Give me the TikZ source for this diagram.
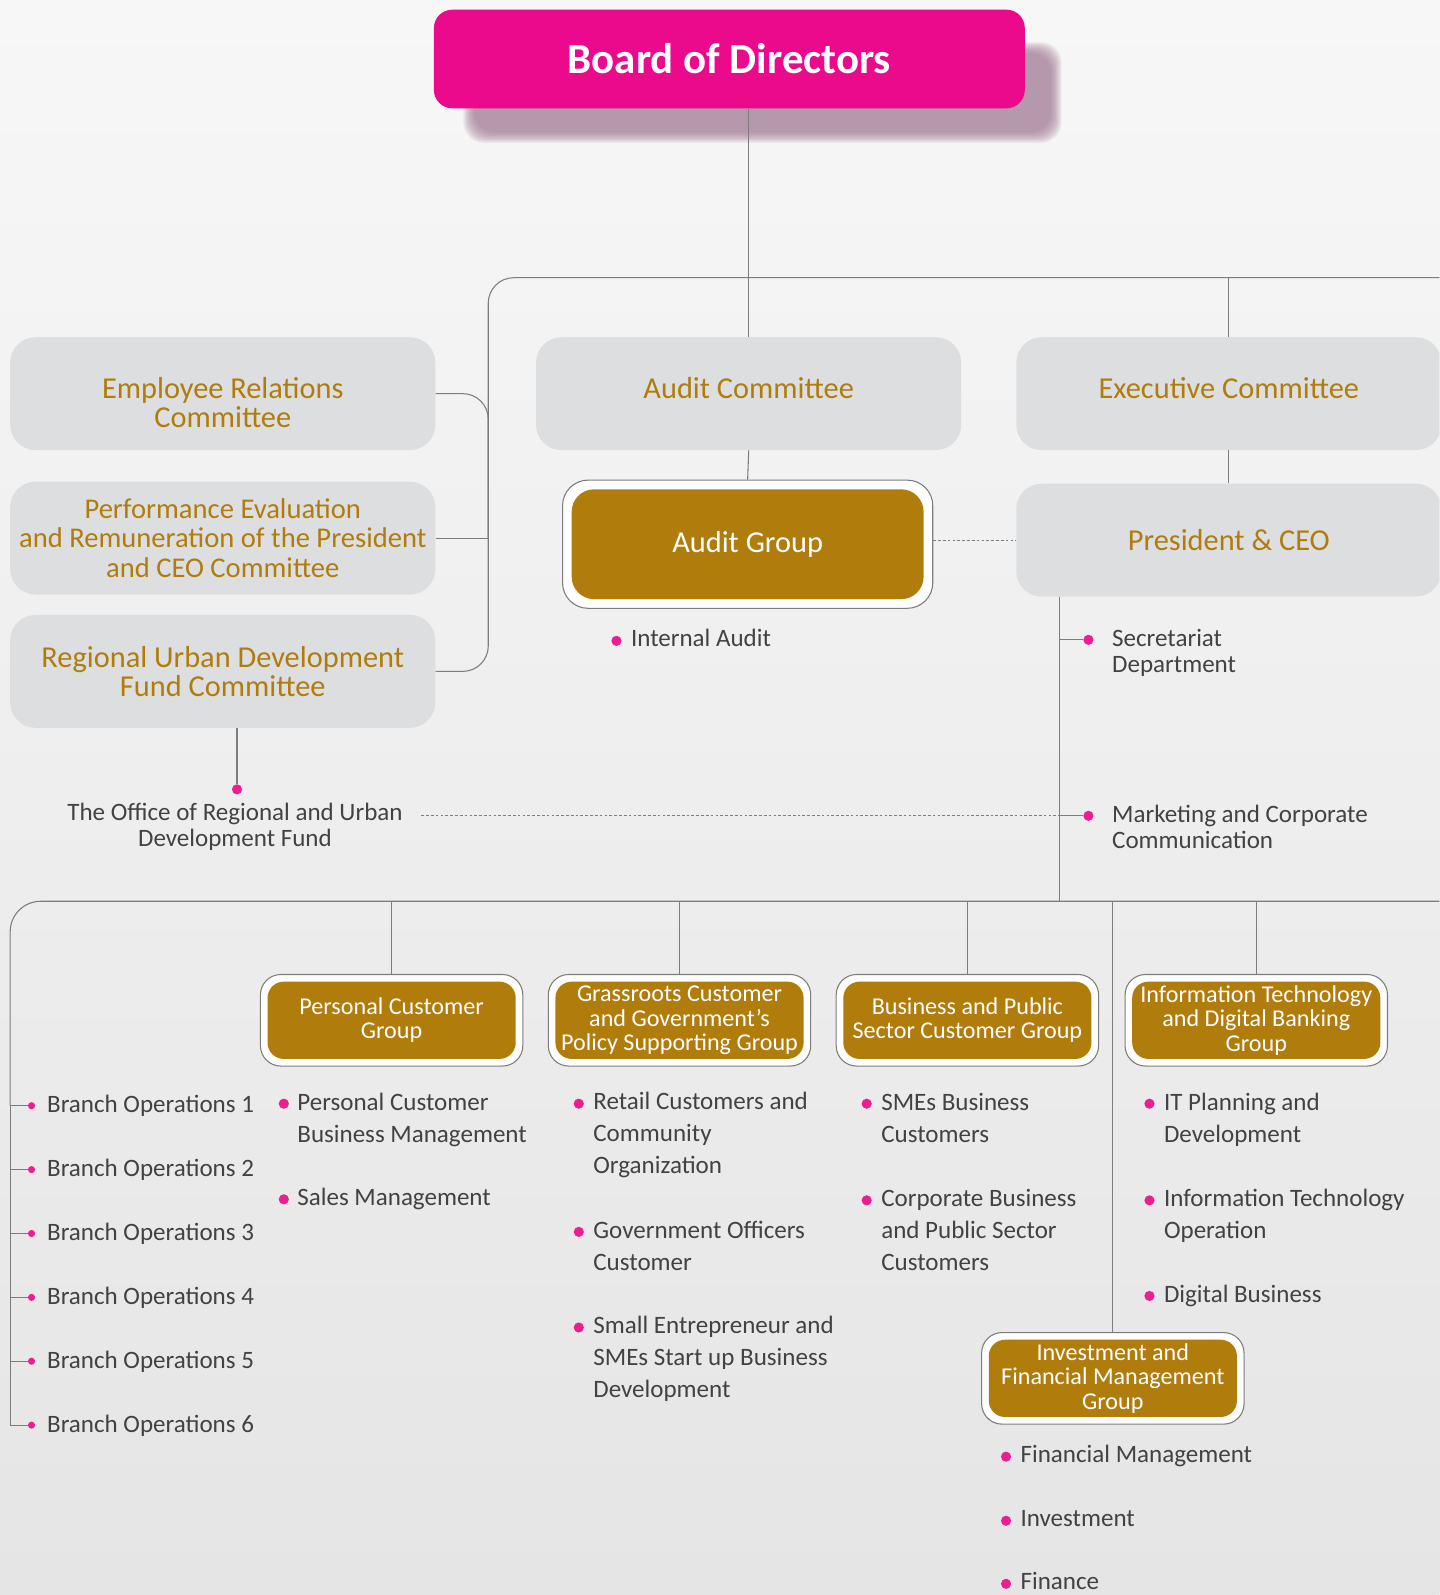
\documentclass[tikz,border=0pt]{standalone}
\usepackage{fontspec}
\setmainfont{Carlito}
\usetikzlibrary{positioning}

\definecolor{bgtop}{RGB}{247,247,247}
\definecolor{bgbottom}{RGB}{229,229,229}
\definecolor{boardpink}{RGB}{236,10,140}
\definecolor{shadowmauve}{RGB}{160,118,145}
\definecolor{panelgray}{RGB}{221,222,224}
\definecolor{goldbrown}{RGB}{176,124,12}
\definecolor{dotpink}{RGB}{236,30,145}
\definecolor{ink}{RGB}{66,66,66}
\definecolor{wire}{RGB}{125,125,125}

\tikzset{
  board/.style={fill=boardpink, rounded corners=0.36cm, minimum width=11.62cm, minimum height=1.94cm,
    text=white, font=\fontsize{24}{28}\selectfont\bfseries},
  panel/.style={fill=panelgray, rounded corners=0.5cm, minimum width=8.36cm, minimum height=2.22cm,
    text=goldbrown, align=center, inner sep=0pt, font=\fontsize{17}{16.2}\selectfont},
  ring/.style={draw=wire, line width=0.6pt, fill=white},
  agring/.style={rounded corners=0.5cm, minimum width=7.28cm, minimum height=2.52cm},
  agcore/.style={fill=goldbrown, rounded corners=0.44cm, minimum width=6.92cm, minimum height=2.16cm,
    text=white, font=\fontsize{17}{20}\selectfont},
  grpring/.style={rounded corners=0.4cm, minimum width=5.16cm, minimum height=1.8cm},
  grpcore/.style={fill=goldbrown, rounded corners=0.32cm, minimum width=4.88cm, minimum height=1.52cm,
    text=white, align=center, inner sep=0pt, font=\fontsize{13.5}{13.6}\selectfont},
  conn/.style={draw=wire, line width=0.6pt},
  dotline/.style={draw=wire, line width=0.6pt, dash pattern=on 1.5pt off 1.2pt},
  dot/.style={circle, fill=dotpink, inner sep=0pt, minimum size=0.2cm},
  smalldot/.style={circle, fill=dotpink, inner sep=0pt, minimum size=0.14cm},
  item/.style={anchor=base west, align=left, text=ink, inner sep=0pt, font=\fontsize{14}{17.9}\selectfont},
  note/.style={anchor=base west, align=left, text=ink, inner sep=0pt, font=\fontsize{14}{14.7}\selectfont},
}

\begin{document}
\begin{tikzpicture}[x=0.02cm, y=-0.02cm]
% Page and backdrop
\useasboundingbox (0,0) rectangle (1415,1568);
\clip (0,0) rectangle (1415,1568);
\shade[top color=bgtop, bottom color=bgbottom] (0,0) rectangle (1415,1568);

% Bus points
\coordinate (busL) at (480,273);
\coordinate (busR) at (1415,273);
\coordinate (stem) at (1042,886);
\coordinate (bbL) at (10,886);
\coordinate (bbR) at (1415,886);

% Soft shadow behind the board
\foreach \k in {0,...,8}
  \fill[shadowmauve, opacity=0.13, rounded corners=0.4cm] ({466-1.3*\k},{52-1.3*\k}) rectangle ({1033+1.3*\k},{130+1.3*\k});

% Board and committees
\node[board] (bod) at (717,58) {Board of Directors};
\node[panel] (erc) at (219,387) {\rule{0pt}{22pt}Employee Relations\\Committee};
\node[panel, font=\fontsize{16}{16.4}\selectfont] (pec) at (219,529) {Performance Evaluation\\and Remuneration of the President\\and CEO Committee};
\node[panel] (rud) at (219,660) {Regional Urban Development\\Fund Committee};
\node[panel] (ac) at (736,387) {Audit Committee\rule[-6pt]{0pt}{6pt}};
\node[panel] (ec) at (1208,387) {Executive Committee\rule[-6pt]{0pt}{6pt}};
\node[panel] (ceo) at (1208,531) {President \& CEO};

% Audit group
\node[ring, agring] (ag) at (735,535) {};
\node[agcore] (agc) at (ag) {Audit Group};
\node[dot] (b-ia) at (606,630) {};
\node[item] (ia) at (620,636) {Internal Audit};

% Units under the President (the base of a two-line text is its last line)
\node[dot] (b-sec) at (1070,629) {};
\node[note] (sec) at (1093,661) {Secretariat\\Department};
\node[dot] (b-mkt) at (1070,802) {};
\node[note] (mkt) at (1093,834) {Marketing and Corporate\\Communication};
\node[dot] (b-ofc) at (233,776) {};
\node[note, anchor=base, align=center, inner xsep=0.36cm] (ofc) at (231,832) {The Office of Regional and Urban\\Development Fund};

% Groups
\node[ring, grpring] (pcg) at (385,1003) {};
\node[grpcore] (pcgc) at (pcg) {Personal Customer\\Group};
\node[ring, grpring] (gcg) at (668,1003) {};
\node[grpcore] (gcgc) at (gcg) {Grassroots Customer\\and Government's\\Policy Supporting Group};
\node[ring, grpring] (bcg) at (951,1003) {};
\node[grpcore] (bcgc) at (bcg) {Business and Public\\Sector Customer Group};
\node[ring, grpring] (itg) at (1235,1003) {};
\node[grpcore] (itgc) at (itg) {Information Technology\\and Digital Banking\\Group};
\node[ring, grpring] (ifg) at (1094,1355) {};
\node[grpcore] (ifgc) at (ifg) {Investment and\\Financial Management\\Group};

% Branch operations
\foreach \i in {1,...,6} {
  \node[smalldot] (b-br\i) at (31,{1087+62.8*(\i-1)}) {};
  \node[item] (br\i) at (46,{1094+62.8*(\i-1)}) {Branch Operations \i};
}

% Group departments
\node[dot] (b-pc1) at (279,1085) {};
\node[item] (pc1) at (292,1123) {Personal Customer\\Business Management};
\node[dot] (b-pc2) at (279,1179) {};
\node[item] (pc2) at (292,1185) {Sales Management};
\node[dot] (b-gc1) at (569,1085) {};
\node[item] (gc1) at (583,1154) {Retail Customers and\\Community\\Organization};
\node[dot] (b-gc2) at (569,1211) {};
\node[item] (gc2) at (583,1249) {Government Officers\\Customer};
\node[dot] (b-gc3) at (569,1305) {};
\node[item] (gc3) at (583,1374) {Small Entrepreneur and\\SMEs Start up Business\\Development};
\node[dot] (b-bc1) at (852,1085) {};
\node[item] (bc1) at (866,1123) {SMEs Business\\Customers};
\node[dot] (b-bc2) at (852,1180) {};
\node[item] (bc2) at (866,1249) {Corporate Business\\and Public Sector\\Customers};
\node[dot] (b-it1) at (1130,1085) {};
\node[item] (it1) at (1144,1123) {IT Planning and\\Development};
\node[dot] (b-it2) at (1130,1180) {};
\node[item] (it2) at (1144,1218) {Information Technology\\Operation};
\node[dot] (b-it3) at (1130,1274) {};
\node[item] (it3) at (1144,1280) {Digital Business};
\node[dot] (b-if1) at (989,1432) {};
\node[item] (if1) at (1003,1438) {Financial Management};
\node[dot] (b-if2) at (989,1495) {};
\node[item] (if2) at (1003,1501) {Investment};
\node[dot] (b-if3) at (989,1557) {};
\node[item] (if3) at (1003,1563) {Finance};

% Connectors
\draw[conn] (bod.south -| ac.north) -- (ac.north);
\draw[conn, rounded corners=0.5cm] (rud.east) -| (busL) -- (busR);
\draw[conn, rounded corners=0.5cm] (erc.east) -| (pec.east -| busL);
\draw[conn] (pec.east) -- (pec.east -| busL);
\draw[conn] (busR -| ec.north) -- (ec.north);
\draw[conn] (ec.south) -- (ceo.north);
\draw[conn] (ac.south) -- (ag.north);
\draw[dotline] (ceo.west -| ag.east) -- (ceo.west);
\draw[conn] (stem |- ceo.south) -- (stem);
\draw[conn] (b-sec -| stem) -- (b-sec);
\draw[conn] (b-mkt -| stem) -- (b-mkt);
\draw[dotline] (ofc.east |- b-mkt) -- (b-mkt -| stem);
\draw[conn] (rud.south -| b-ofc) -- (b-ofc);
\draw[conn, rounded corners=0.6cm] (bbR) -- (bbL) -- (bbL |- b-br1);
\draw[conn] (bbL |- b-br1) |- (b-br6);
\foreach \i in {1,...,5}
  \draw[conn] (bbL |- b-br\i) -- (b-br\i);
\foreach \g in {pcg,gcg,bcg,itg,ifg}
  \draw[conn] (bbR -| \g.north) -- (\g.north);
\end{tikzpicture}
\end{document}
